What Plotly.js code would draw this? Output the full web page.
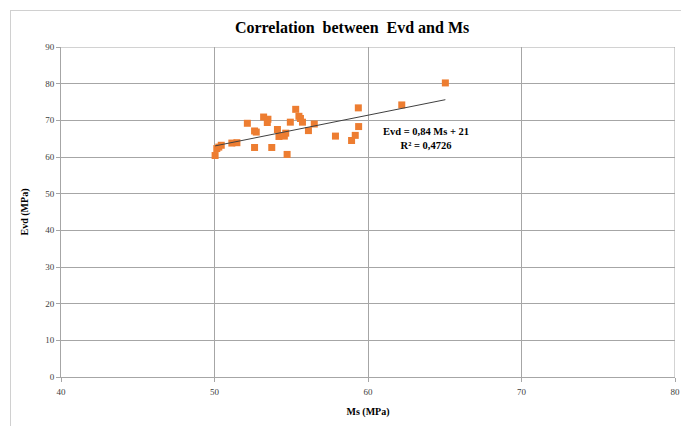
<!DOCTYPE html>
<html>
<head>
<meta charset="utf-8">
<script src="https://cdn.plot.ly/plotly-3.0.1.min.js"></script>
<style>
html,body{margin:0;padding:0;background:#fff;}
#wrap{position:relative;width:681px;height:426px;}
#chart{width:681px;height:426px;}
#frame{position:absolute;left:10px;top:10px;width:671px;height:416px;border-left:1px solid #d0d0d0;border-top:1px solid #d0d0d0;pointer-events:none;}
</style>
</head>
<body>
<div id="wrap"><div id="chart"></div><div id="frame"></div></div>
<script>
// Data
const msValues = [50.04, 50.15, 50.28, 50.44, 51.13, 51.46, 52.14, 52.61, 52.72, 52.61,
  53.20, 53.48, 53.44, 53.73, 54.10, 54.20, 54.55, 54.64, 54.73, 55.29,
  54.94, 55.50, 55.60, 55.73, 56.12, 56.50, 57.88, 58.93, 59.17, 59.39,
  59.37, 62.20, 65.04];
const evdValues = [60.4, 62.3, 62.7, 63.2, 63.8, 63.9, 69.2, 67.1, 66.8, 62.6,
  70.9, 70.3, 69.4, 62.6, 67.5, 65.6, 65.7, 66.5, 60.7, 73.0,
  69.5, 71.1, 70.5, 69.5, 67.2, 69.0, 65.7, 64.5, 65.9, 68.3,
  73.4, 74.2, 80.2];
const trendSlope = 0.84;
const trendIntercept = 21;
const trendLabel = "Evd = 0,84 Ms + 21<br>R² = 0,4726";
const xTicks = [40, 50, 60, 70, 80];
const yTicks = [0, 10, 20, 30, 40, 50, 60, 70, 80, 90];

const xMin = Math.min(...msValues), xMax = Math.max(...msValues);
const trendX = [xMin, xMax];
const trendY = trendX.map(v => trendSlope * v + trendIntercept);

const serif = "Liberation Serif, Times New Roman, serif";

const traces = [
  {x: msValues, y: evdValues, type: 'scatter', mode: 'markers',
   marker: {symbol: 'square', size: 7, color: '#ED7D31'}, showlegend: false, hoverinfo: 'x+y'},
  {x: trendX, y: trendY, type: 'scatter', mode: 'lines',
   line: {color: '#404040', width: 1}, showlegend: false, hoverinfo: 'skip'}
];

const axisCommon = {
  showgrid: true, gridcolor: '#a6a6a6', gridwidth: 1,
  showline: true, linecolor: '#a6a6a6', linewidth: 1,
  ticks: 'outside', ticklen: 4, tickcolor: '#a6a6a6',
  zeroline: false, mirror: false,
  tickfont: {family: serif, size: 9, color: '#404040'}
};

const layout = {
  width: 681, height: 426,
  margin: {l: 61, r: 6, t: 47, b: 49},
  paper_bgcolor: '#ffffff', plot_bgcolor: '#ffffff',
  title: {text: '<b>Correlation  between  Evd and Ms</b>', x: 0.517, xanchor: 'center', y: 0.935, yanchor: 'middle',
          font: {family: serif, size: 16, color: '#000'}},
  xaxis: Object.assign({}, axisCommon, {
    range: [40, 80], tickvals: xTicks, ticktext: xTicks.map(String),
    ticklabelstandoff: 2,
    title: {text: '<b>Ms (MPa)</b>', font: {family: serif, size: 10, color: '#000'}, standoff: 12}
  }),
  yaxis: Object.assign({}, axisCommon, {
    range: [0, 90], tickvals: yTicks, ticktext: yTicks.map(String),
    title: {text: '<b>Evd (MPa)</b>', font: {family: serif, size: 10, color: '#000'}, standoff: 14}
  }),
  shapes: [
    {type: 'line', xref: 'x', yref: 'paper', x0: 80, x1: 80, y0: 0, y1: 1, line: {color: '#a6a6a6', width: 1}},
    {type: 'line', xref: 'paper', yref: 'y', x0: 0, x1: 1, y0: 90, y1: 90, line: {color: '#a6a6a6', width: 1}}
  ],
  annotations: [
    {x: 63.8, y: 65.0, xref: 'x', yref: 'y', text: '<b>' + trendLabel + '</b>', showarrow: false,
     align: 'center', font: {family: serif, size: 10.5, color: '#000'}}
  ]
};

Plotly.newPlot('chart', traces, layout, {displayModeBar: false, staticPlot: true});
</script>
</body>
</html>
